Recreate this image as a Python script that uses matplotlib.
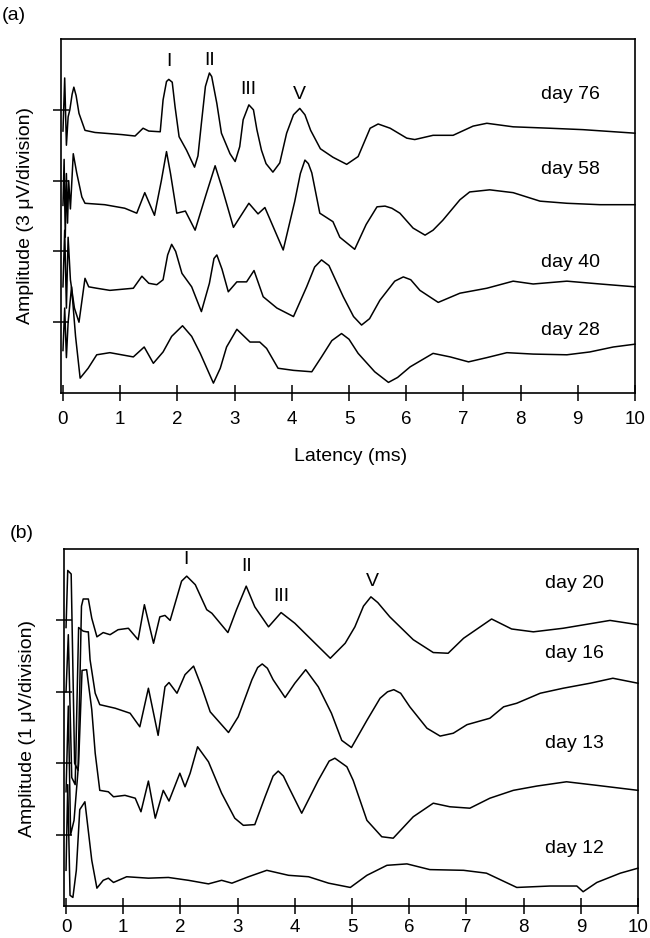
"""
Auditory brainstem response traces at different ages, two panels.
"""

import matplotlib.pyplot as plt

plt.rcParams['font.family'] = ['Liberation Sans', 'DejaVu Sans']
plt.rcParams['font.size'] = 14

# Panel (a) traces, latency (ms) vs amplitude (divisions)
a_day76_x = [0.0, 0.03, 0.06, 0.09, 0.12, 0.16, 0.19, 0.23, 0.28, 0.385,
             0.56, 1.03, 1.26, 1.40, 1.50, 1.70, 1.75, 1.81, 1.85, 1.91,
             1.96, 2.03, 2.16, 2.30, 2.36, 2.42, 2.49, 2.56, 2.60, 2.69,
             2.77, 2.92, 3.01, 3.09, 3.15, 3.25, 3.33, 3.39, 3.47, 3.55,
             3.67, 3.79, 3.91, 4.03, 4.14, 4.23, 4.33, 4.50, 4.72, 4.96,
             5.16, 5.37, 5.51, 5.72, 6.01, 6.15, 6.47, 6.82, 7.17, 7.41,
             7.87, 8.51, 9.09, 10.0]
a_day76_y = [3.70, 4.45, 3.50, 3.90, 4.00, 4.22, 4.32, 4.20, 3.95, 3.71,
             3.68, 3.65, 3.63, 3.74, 3.70, 3.69, 4.14, 4.40, 4.43, 4.39,
             4.04, 3.62, 3.43, 3.19, 3.35, 3.81, 4.33, 4.52, 4.47, 4.09,
             3.67, 3.38, 3.27, 3.48, 3.86, 4.07, 4.00, 3.72, 3.43, 3.24,
             3.12, 3.25, 3.67, 3.93, 4.02, 3.93, 3.71, 3.45, 3.33, 3.23,
             3.34, 3.74, 3.80, 3.74, 3.60, 3.58, 3.64, 3.64, 3.77, 3.81,
             3.76, 3.74, 3.72, 3.67]

a_day58_x = [0.0, 0.02, 0.04, 0.06, 0.08, 0.10, 0.13, 0.18, 0.24, 0.33,
             0.385, 0.73, 1.08, 1.29, 1.43, 1.60, 1.72, 1.81, 1.88, 1.99,
             2.14, 2.31, 2.50, 2.66, 2.78, 2.98, 3.25, 3.41, 3.53, 3.85,
             4.05, 4.15, 4.23, 4.29, 4.35, 4.49, 4.72, 4.84, 5.10, 5.30,
             5.49, 5.63, 5.75, 5.89, 6.12, 6.33, 6.47, 6.64, 6.94, 7.11,
             7.46, 7.87, 8.34, 8.81, 9.39, 10.0]
a_day58_y = [2.65, 3.30, 2.20, 3.10, 2.40, 3.00, 2.60, 3.38, 3.11, 2.77,
             2.68, 2.66, 2.61, 2.54, 2.83, 2.51, 3.00, 3.41, 3.10, 2.54,
             2.57, 2.30, 2.80, 3.21, 2.90, 2.34, 2.68, 2.53, 2.62, 2.02,
             2.70, 3.10, 3.29, 3.24, 3.11, 2.54, 2.42, 2.20, 2.03, 2.38,
             2.63, 2.64, 2.61, 2.54, 2.33, 2.23, 2.30, 2.44, 2.73, 2.84,
             2.87, 2.83, 2.71, 2.68, 2.66, 2.66]

a_day40_x = [0.0, 0.03, 0.06, 0.09, 0.13, 0.2, 0.28, 0.385, 0.45, 0.59,
             0.82, 1.23, 1.38, 1.50, 1.64, 1.75, 1.83, 1.90, 1.97, 2.08,
             2.25, 2.42, 2.56, 2.64, 2.69, 2.78, 2.89, 3.04, 3.21, 3.34,
             3.50, 3.74, 4.03, 4.26, 4.40, 4.52, 4.65, 4.90, 5.08, 5.22,
             5.36, 5.54, 5.80, 5.95, 6.08, 6.24, 6.56, 6.94, 7.41, 7.87,
             8.22, 8.81, 9.39, 10.0]
a_day40_y = [1.50, 2.30, 1.20, 2.20, 1.60, 1.20, 1.00, 1.62, 1.50, 1.48,
             1.45, 1.48, 1.65, 1.55, 1.53, 1.60, 1.95, 2.10, 2.00, 1.69,
             1.50, 1.15, 1.55, 1.90, 1.95, 1.75, 1.43, 1.57, 1.57, 1.73,
             1.36, 1.20, 1.08, 1.50, 1.78, 1.88, 1.80, 1.36, 1.08, 0.96,
             1.05, 1.31, 1.58, 1.64, 1.60, 1.45, 1.28, 1.41, 1.48, 1.58,
             1.54, 1.58, 1.54, 1.50]

a_day28_x = [0.0, 0.03, 0.06, 0.09, 0.15, 0.22, 0.30, 0.44, 0.59, 0.82,
             1.23, 1.42, 1.58, 1.75, 1.90, 2.09, 2.25, 2.40, 2.63, 2.75,
             2.86, 3.04, 3.27, 3.44, 3.56, 3.76, 4.03, 4.35, 4.52, 4.70,
             4.87, 5.00, 5.16, 5.45, 5.69, 5.85, 6.07, 6.47, 6.77, 7.09,
             7.41, 7.76, 8.22, 8.81, 9.21, 9.62, 10.0]
a_day28_y = [0.60, 1.20, 0.50, 1.00, 1.50, 0.80, 0.21, 0.35, 0.54, 0.57,
             0.51, 0.65, 0.42, 0.58, 0.80, 0.95, 0.80, 0.56, 0.14, 0.35,
             0.65, 0.90, 0.72, 0.72, 0.63, 0.35, 0.32, 0.30, 0.51, 0.74,
             0.84, 0.76, 0.56, 0.30, 0.15, 0.22, 0.37, 0.56, 0.51, 0.44,
             0.50, 0.57, 0.55, 0.54, 0.58, 0.65, 0.69]

# Panel (b) traces
b_day20_x = [0.0, 0.03, 0.09, 0.15, 0.21, 0.27, 0.30, 0.39, 0.45, 0.54,
             0.65, 0.77, 0.91, 1.09, 1.26, 1.37, 1.53, 1.64, 1.73, 1.82,
             1.94, 2.02, 2.11, 2.26, 2.46, 2.55, 2.83, 2.98, 3.15, 3.30,
             3.54, 3.76, 4.00, 4.24, 4.62, 4.88, 5.05, 5.20, 5.33, 5.45,
             5.66, 6.07, 6.42, 6.68, 6.95, 7.44, 7.79, 8.17, 8.69, 9.51,
             10.0]
b_day20_y = [3.90, 4.70, 4.65, 2.00, 1.90, 4.20, 4.30, 4.30, 4.03, 3.77,
             3.83, 3.80, 3.87, 3.89, 3.73, 4.22, 3.68, 4.05, 4.07, 4.00,
             4.33, 4.55, 4.62, 4.50, 4.15, 4.10, 3.83, 4.15, 4.48, 4.19,
             3.91, 4.11, 3.96, 3.77, 3.47, 3.68, 3.91, 4.20, 4.33, 4.25,
             4.05, 3.73, 3.55, 3.54, 3.75, 4.02, 3.88, 3.84, 3.89, 4.00,
             3.94]

b_day16_x = [0.0, 0.04, 0.10, 0.16, 0.22, 0.30, 0.36, 0.39, 0.42, 0.51,
             0.59, 0.86, 1.12, 1.29, 1.44, 1.61, 1.73, 1.80, 1.94, 2.08,
             2.23, 2.37, 2.52, 2.84, 3.01, 3.25, 3.35, 3.43, 3.52, 3.62,
             3.83, 4.00, 4.19, 4.41, 4.64, 4.82, 4.99, 5.26, 5.49, 5.62,
             5.73, 5.85, 6.01, 6.31, 6.54, 6.77, 7.01, 7.41, 7.65, 7.88,
             8.29, 8.69, 9.16, 9.56, 10.0]
b_day16_y = [3.00, 3.80, 1.80, 1.70, 3.90, 3.85, 3.84, 3.84, 3.45, 2.98,
             2.82, 2.77, 2.70, 2.51, 3.05, 2.39, 3.07, 3.13, 2.98, 3.24,
             3.36, 3.07, 2.72, 2.43, 2.65, 3.17, 3.34, 3.39, 3.33, 3.17,
             2.92, 3.12, 3.31, 3.07, 2.70, 2.32, 2.22, 2.60, 2.91, 3.00,
             3.03, 2.98, 2.79, 2.49, 2.38, 2.42, 2.54, 2.63, 2.79, 2.84,
             2.98, 3.05, 3.12, 3.19, 3.12]

b_day13_x = [0.0, 0.04, 0.08, 0.14, 0.22, 0.28, 0.36, 0.45, 0.51, 0.59,
             0.74, 0.83, 1.03, 1.21, 1.31, 1.44, 1.56, 1.70, 1.80, 1.99,
             2.08, 2.17, 2.30, 2.49, 2.72, 2.95, 3.10, 3.30, 3.48, 3.62,
             3.71, 3.80, 3.89, 4.12, 4.41, 4.60, 4.70, 4.91, 5.02, 5.26,
             5.52, 5.72, 6.07, 6.42, 6.71, 7.06, 7.41, 7.82, 8.23, 8.75,
             9.28, 10.0]
b_day13_y = [1.60, 2.80, 1.00, 1.20, 2.00, 3.30, 3.31, 2.75, 2.14, 1.62,
             1.60, 1.53, 1.55, 1.51, 1.32, 1.75, 1.23, 1.62, 1.47, 1.86,
             1.67, 1.86, 2.23, 2.02, 1.58, 1.23, 1.13, 1.14, 1.53, 1.82,
             1.89, 1.82, 1.67, 1.30, 1.76, 2.03, 2.07, 1.95, 1.76, 1.20,
             0.97, 0.95, 1.25, 1.44, 1.39, 1.37, 1.51, 1.62, 1.68, 1.74,
             1.69, 1.62]

b_day12_x = [0.0, 0.03, 0.07, 0.12, 0.18, 0.24, 0.33, 0.45, 0.54, 0.65,
             0.74, 0.83, 1.06, 1.44, 1.79, 2.14, 2.49, 2.72, 2.90, 3.19,
             3.51, 3.89, 4.24, 4.59, 4.97, 5.26, 5.61, 5.96, 6.36, 6.95,
             7.35, 7.88, 8.46, 8.93, 9.04, 9.28, 9.69, 10.0]
b_day12_y = [0.50, 1.70, 0.15, 0.12, 0.50, 1.35, 1.46, 0.64, 0.25, 0.36,
             0.39, 0.33, 0.41, 0.39, 0.40, 0.36, 0.31, 0.36, 0.32, 0.41,
             0.50, 0.43, 0.41, 0.32, 0.26, 0.43, 0.57, 0.59, 0.51, 0.50,
             0.46, 0.26, 0.28, 0.28, 0.20, 0.33, 0.46, 0.53]

# Labels
a_days = ['day 76', 'day 58', 'day 40', 'day 28']
a_day_y = [4.21, 3.16, 1.85, 0.89]
a_peaks = ['I', 'II', 'III', 'V']
a_peak_x = [1.85, 2.57, 3.24, 4.14]
a_peak_y = [4.68, 4.70, 4.29, 4.21]

b_days = ['day 20', 'day 16', 'day 13', 'day 12']
b_day_y = [4.52, 3.53, 2.28, 0.80]
b_peaks = ['I', 'II', 'III', 'V']
b_peak_x = [2.10, 3.16, 3.76, 5.35]
b_peak_y = [4.85, 4.75, 4.33, 4.55]

x_ticks = list(range(11))


def style_axes(ax, pad):
    ax.set_xlim(-0.035, 10)
    ax.set_ylim(0, 5)
    ax.set_xticks(x_ticks)
    ax.set_yticks([1, 2, 3, 4])
    ax.set_yticklabels([])
    ax.tick_params(axis='both', direction='inout', length=12, width=1.1, colors='black')
    ax.tick_params(axis='x', labelsize=13.5, pad=pad)
    for sp in ax.spines.values():
        sp.set_linewidth(1.2)
        sp.set_color('black')


fig = plt.figure(figsize=(6.5, 9.38), dpi=100)
ax_a = fig.add_axes([0.0938, 0.581, 0.8831, 0.3774])
ax_b = fig.add_axes([0.0985, 0.0341, 0.8831, 0.3806])

traces_a = [(a_day76_x, a_day76_y), (a_day58_x, a_day58_y),
            (a_day40_x, a_day40_y), (a_day28_x, a_day28_y)]
for xs, ys in traces_a:
    ax_a.plot(xs, ys, color='black', linewidth=1.1, clip_on=False)
for lab, y in zip(a_days, a_day_y):
    ax_a.text(8.88, y, lab, ha='center', va='center', fontsize=14)
for lab, x, y in zip(a_peaks, a_peak_x, a_peak_y):
    ax_a.text(x, y, lab, ha='center', va='center', fontsize=14)
style_axes(ax_a, 7)
ax_a.set_xlabel('Latency (ms)', fontsize=14)
ax_a.xaxis.set_label_coords(0.504, -0.155)

traces_b = [(b_day20_x, b_day20_y), (b_day16_x, b_day16_y),
            (b_day13_x, b_day13_y), (b_day12_x, b_day12_y)]
for xs, ys in traces_b:
    ax_b.plot(xs, ys, color='black', linewidth=1.1, clip_on=False)
for lab, y in zip(b_days, b_day_y):
    ax_b.text(8.88, y, lab, ha='center', va='center', fontsize=14)
for lab, x, y in zip(b_peaks, b_peak_x, b_peak_y):
    ax_b.text(x, y, lab, ha='center', va='center', fontsize=14)
style_axes(ax_b, 3.5)

fig.text(25.5 / 650, 1 - 216 / 938, 'Amplitude (3 μV/division)', rotation=90,
         ha='center', va='center', fontsize=14)
fig.text(27.5 / 650, 1 - 728 / 938, 'Amplitude (1 μV/division)', rotation=90,
         ha='center', va='center', fontsize=14)
fig.text(2 / 650, 1 - 15 / 938, '(a)', ha='left', va='center', fontsize=14)
fig.text(10 / 650, 1 - 533 / 938, '(b)', ha='left', va='center', fontsize=14)

fig.savefig('out.png', dpi=100, facecolor='white')
